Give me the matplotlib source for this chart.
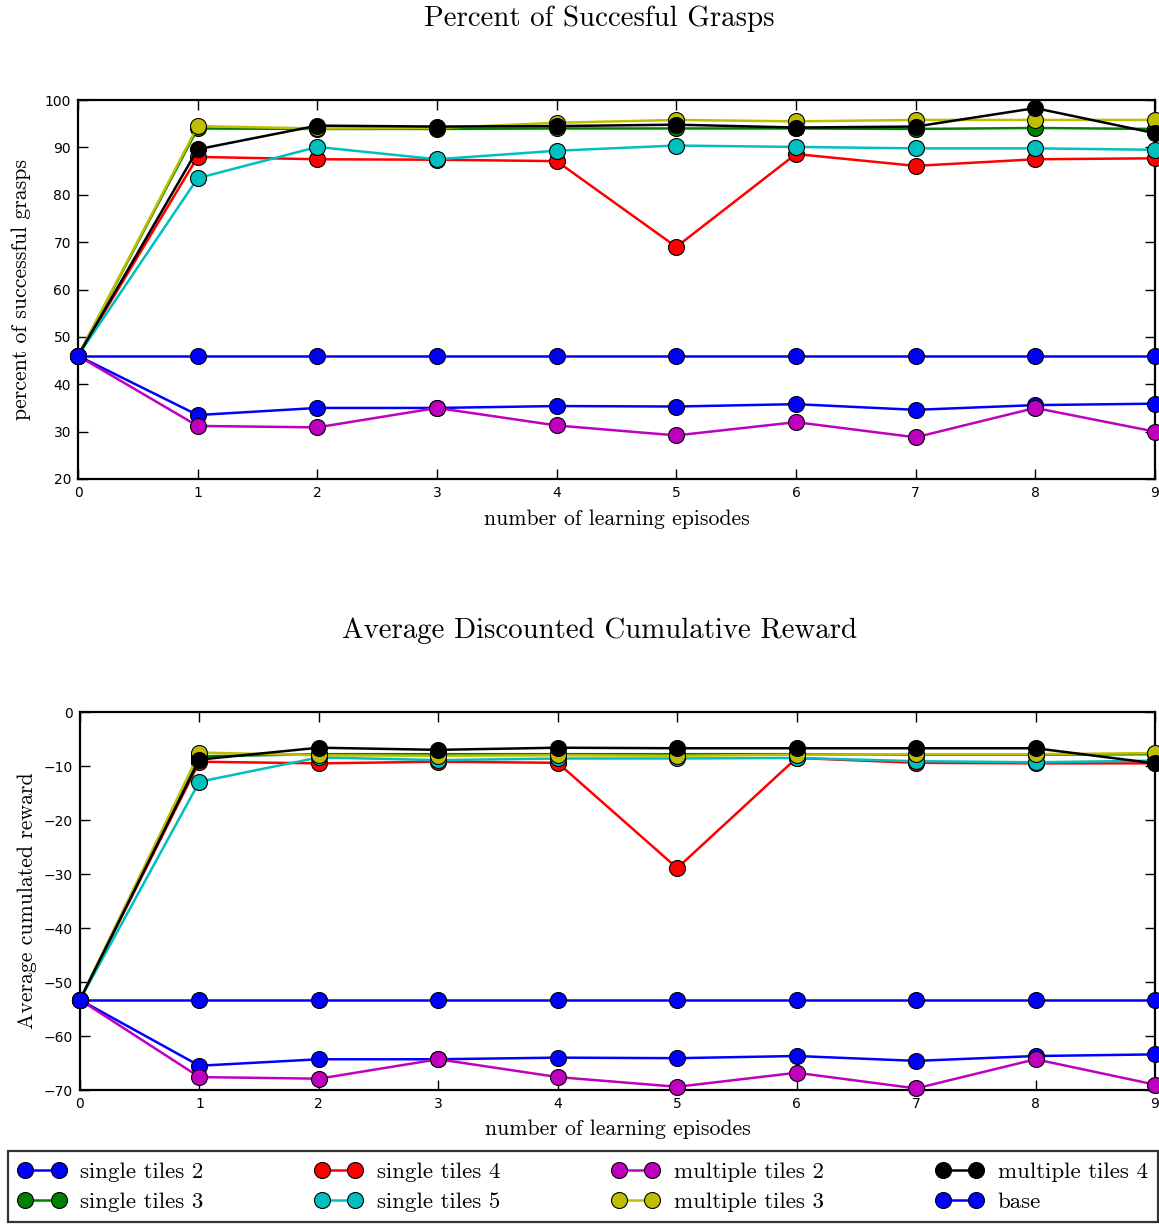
import matplotlib
matplotlib.use("Agg")
import matplotlib.pyplot as plt

# episodes on the x axis
episodes = list(range(10))

# percent of successful grasps per configuration
grasp_single_2 = [46, 33.5, 35.0, 35.0, 35.4, 35.3, 35.8, 34.6, 35.6, 35.9]
grasp_single_3 = [46, 94.0, 93.9, 93.9, 94.0, 94.0, 94.0, 93.9, 94.1, 93.9]
grasp_single_4 = [46, 88.0, 87.5, 87.4, 87.1, 69.0, 88.6, 86.1, 87.5, 87.7]
grasp_single_5 = [46, 83.5, 90.1, 87.5, 89.3, 90.4, 90.1, 89.8, 89.8, 89.5]
grasp_multi_2 = [46, 31.2, 30.9, 35.0, 31.3, 29.2, 32.0, 28.8, 35.0, 30.0]
grasp_multi_3 = [46, 94.5, 94.0, 94.1, 95.2, 95.8, 95.5, 95.8, 95.8, 95.8]
grasp_multi_4 = [46, 89.6, 94.6, 94.4, 94.5, 94.8, 94.2, 94.4, 98.3, 93.0]
grasp_base = [46] * 10

# average discounted cumulative reward per configuration
reward_single_2 = [-53.3, -65.5, -64.3, -64.3, -64.0, -64.1, -63.7, -64.6, -63.7, -63.4]
reward_single_3 = [-53.3, -8.2, -7.8, -7.8, -7.8, -7.8, -7.8, -7.9, -7.9, -7.8]
reward_single_4 = [-53.3, -9.2, -9.5, -9.2, -9.4, -28.9, -8.5, -9.4, -9.5, -9.5]
reward_single_5 = [-53.3, -12.9, -8.4, -8.9, -8.6, -8.6, -8.5, -9.1, -9.3, -9.0]
reward_multi_2 = [-53.3, -67.6, -67.9, -64.3, -67.6, -69.4, -66.8, -69.7, -64.3, -69.0]
reward_multi_3 = [-53.3, -7.5, -8.0, -8.1, -8.0, -8.1, -7.9, -7.8, -7.8, -7.6]
reward_multi_4 = [-53.3, -8.8, -6.6, -7.0, -6.6, -6.7, -6.7, -6.7, -6.7, -9.5]
reward_base = [-53.3] * 10

labels = ["single tiles 2", "single tiles 3", "single tiles 4", "single tiles 5",
          "multiple tiles 2", "multiple tiles 3", "multiple tiles 4", "base"]
colors = ["#0000ff", "#008000", "#ff0000", "#00bfbf",
          "#bf00bf", "#bfbf00", "#000000", "#0000ff"]

grasps = [grasp_single_2, grasp_single_3, grasp_single_4, grasp_single_5,
          grasp_multi_2, grasp_multi_3, grasp_multi_4, grasp_base]
rewards = [reward_single_2, reward_single_3, reward_single_4, reward_single_5,
           reward_multi_2, reward_multi_3, reward_multi_4, reward_base]

serif = "cmr10"

fig = plt.figure(figsize=(11.59, 12.26), dpi=100)
ax1 = fig.add_axes([0.0673, 0.6093, 0.9292, 0.3091])
ax2 = fig.add_axes([0.0690, 0.1109, 0.9275, 0.3083])


def style_axes(ax):
    for s in ax.spines.values():
        s.set_linewidth(1.6)
    ax.tick_params(direction="in", top=True, right=True, length=7, width=1,
                   labelsize=10, pad=5)


def draw(ax, series):
    lines = []
    for vals, c, lab in zip(series, colors, labels):
        h, = ax.plot(episodes, vals, "-o", color=c, lw=1.8, markersize=11.5,
                     markeredgecolor="k", markeredgewidth=0.8, label=lab,
                     clip_on=False, zorder=3)
        lines.append(h)
    return lines


handles = draw(ax1, grasps)
ax1.set_xlim(0, 9)
ax1.set_ylim(20, 100)
ax1.set_title("Percent of Succesful Grasps", family=serif, fontsize=20.8,
              pad=53, x=0.484)
ax1.set_xlabel("number of learning episodes", family=serif, fontsize=15.7, labelpad=7)
ax1.set_ylabel("percent of successful grasps", family=serif, fontsize=15.7, labelpad=10)
style_axes(ax1)

draw(ax2, rewards)
ax2.set_xlim(0, 9)
ax2.set_ylim(-70, 0)
ax2.set_title("Average Discounted Cumulative Reward", family=serif, fontsize=20.8,
              pad=53, x=0.483)
ax2.set_xlabel("number of learning episodes", family=serif, fontsize=15.7, labelpad=6)
ax2.set_ylabel("Average cumulated reward", family=serif, fontsize=15.7, labelpad=5)
style_axes(ax2)

leg = fig.legend(handles, labels, loc="lower left", ncol=4, mode="expand",
                 bbox_to_anchor=(0.007, 0.003, 0.992, 0.0625),
                 prop={"family": serif, "size": 16.5}, numpoints=2,
                 handlelength=2.05, fancybox=False, borderaxespad=0.0,
                 handletextpad=0.65, labelspacing=0.45, borderpad=0.45)
leg.get_frame().set_edgecolor("k")
leg.get_frame().set_linewidth(1.6)

fig.savefig("out.png", dpi=100, facecolor="white")
